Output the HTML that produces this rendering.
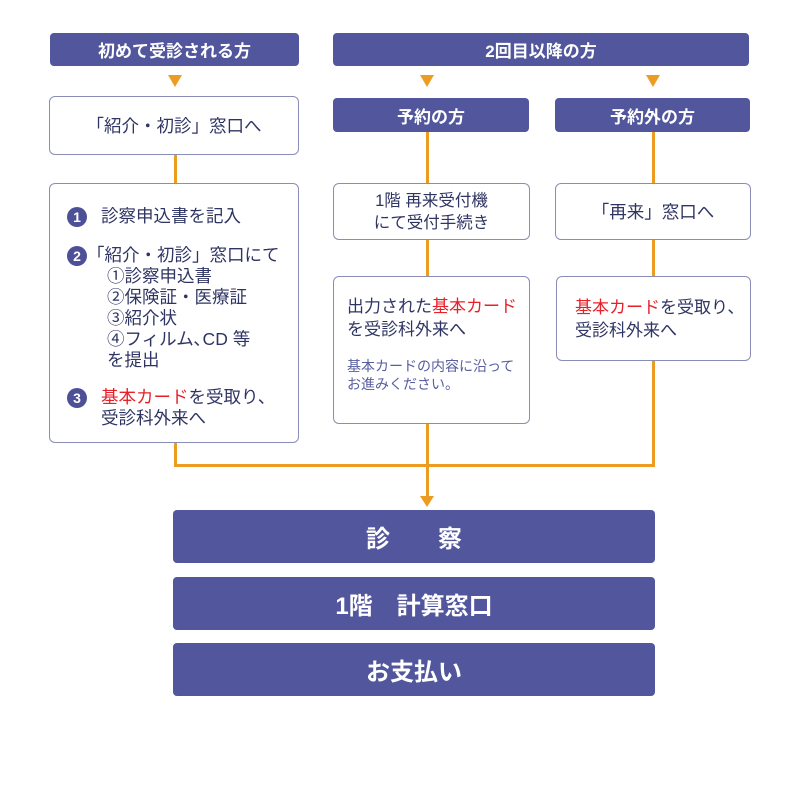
<!DOCTYPE html>
<html><head><meta charset="utf-8"><style>
body{margin:0;width:800px;height:800px;background:#fff;position:relative;font-family:"Liberation Sans","Noto Sans CJK JP",sans-serif;color:#2f3563;overflow:hidden}
.a{position:absolute;box-sizing:border-box}
.h{background:#51569d;color:#fff;font-weight:bold;border-radius:4px;display:flex;align-items:center;justify-content:center}
.b{border:1px solid #8a8db5;border-radius:6px;background:#fff}
.l{position:absolute;background:#ec9c20}
.t{position:absolute;width:0;height:0;border-left:7px solid transparent;border-right:7px solid transparent;border-top:12px solid #ec9c20}
.r{color:#e8202a}
.n{display:inline-block;width:20px;height:20px;border-radius:50%;background:#4d5096;color:#fff;font-weight:bold;font-size:14px;text-align:center;line-height:20px;vertical-align:middle}
</style></head><body>
<div class="a h" style="left:50px;top:33px;width:249px;height:33px;font-size:17px">初めて受診される方</div>
<div class="a h" style="left:333px;top:33px;width:416px;height:33px;font-size:17px">2回目以降の方</div>
<div class="t" style="left:168px;top:75px"></div>
<div class="t" style="left:420px;top:75px"></div>
<div class="t" style="left:646px;top:75px"></div>
<div class="a b" style="left:49px;top:96px;width:250px;height:59px;display:flex;align-items:center;justify-content:center;font-size:17.5px">「紹介・初診」窓口へ</div>
<div class="a h" style="left:333px;top:98px;width:196px;height:34px;font-size:17px">予約の方</div>
<div class="a h" style="left:555px;top:98px;width:195px;height:34px;font-size:17px">予約外の方</div>
<div class="l" style="left:174px;top:155px;width:3px;height:28px"></div>
<div class="l" style="left:426px;top:132px;width:3px;height:51px"></div>
<div class="l" style="left:652px;top:132px;width:3px;height:51px"></div>
<div class="l" style="left:426px;top:240px;width:3px;height:36px"></div>
<div class="l" style="left:652px;top:240px;width:3px;height:36px"></div>
<div class="l" style="left:174px;top:443px;width:3px;height:24px"></div>
<div class="l" style="left:652px;top:361px;width:3px;height:106px"></div>
<div class="l" style="left:174px;top:464px;width:481px;height:3px"></div>
<div class="l" style="left:426px;top:424px;width:3px;height:76px"></div>
<div class="t" style="left:420px;top:496px;border-top-width:11px"></div>
<div class="a b" style="left:49px;top:183px;width:250px;height:260px;font-size:17.5px;line-height:21px">
<div class="a" style="left:17px;top:22px;white-space:nowrap"><span class="n">1</span><span style="margin-left:14px">診察申込書を記入</span></div>
<div class="a" style="left:17px;top:61px;white-space:nowrap"><span class="n">2</span>「紹介・初診」窓口にて<br><div style="padding-left:40px">①診察申込書<br>②保険証・医療証<br>③紹介状<br>④フィルム､CD 等<br>を提出</div></div>
<div class="a" style="left:17px;top:203px;white-space:nowrap"><span class="n">3</span><span style="margin-left:14px"><span class="r">基本カード</span>を受取り、</span><br><span style="margin-left:34px">受診科外来へ</span></div>
</div>
<div class="a b" style="left:333px;top:183px;width:197px;height:57px;display:flex;align-items:center;justify-content:center;text-align:center;font-size:16.5px;line-height:22px">1階 再来受付機<br>にて受付手続き</div>
<div class="a b" style="left:555px;top:183px;width:196px;height:57px;display:flex;align-items:center;justify-content:center;font-size:17.5px">「再来」窓口へ</div>
<div class="a b" style="left:333px;top:276px;width:197px;height:148px;padding:18px 0 0 13px;font-size:17px;line-height:23px;white-space:nowrap">出力された<span class="r">基本カード</span><br>を受診科外来へ<div style="font-size:14px;line-height:18px;color:#585d9e;margin-top:16px">基本カードの内容に沿って<br>お進みください。</div></div>
<div class="a b" style="left:556px;top:276px;width:195px;height:85px;padding:19px 0 0 18px;font-size:17px;line-height:23px;white-space:nowrap"><span class="r">基本カード</span>を受取り、<br>受診科外来へ</div>
<div class="a h" style="left:173px;top:510px;width:482px;height:53px;font-size:24px">診　　察</div>
<div class="a h" style="left:173px;top:577px;width:482px;height:53px;font-size:24px">1階　計算窓口</div>
<div class="a h" style="left:173px;top:643px;width:482px;height:53px;font-size:24px">お支払い</div>
</body></html>
